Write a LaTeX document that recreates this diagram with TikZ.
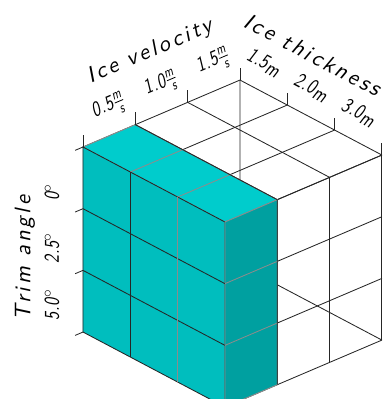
\documentclass[tikz,border=0pt]{standalone}
\usepackage{amsmath}
\usepackage{fontspec}
\newfontfamily\cadfont{lmsans10-oblique}[Extension=.otf, LetterSpace=13]
\newfontfamily\cadnum{lmsans10-oblique}[Extension=.otf, FakeStretch=0.78, LetterSpace=3]
\definecolor{cyantop}{RGB}{0,204,204}
\definecolor{cyanleft}{RGB}{0,190,190}
\definecolor{cyanright}{RGB}{0,160,160}
\newcommand{\mps}{$\tfrac{\text{m}}{\text{s}}$}

\begin{document}
\begin{tikzpicture}[
  x={(1.308cm,0.558cm)}, y={(1.183cm,-0.625cm)}, z={(0cm,-1.542cm)},
  wire/.style={draw=black!85, line width=0.6pt},
  soft/.style={draw=black!45, line width=0.6pt},
  tickmark/.style={draw=black!85, line width=0.6pt},
  lbl/.style={font=\cadnum\fontsize{15}{17}\selectfont, inner sep=0pt},
  ttl/.style={font=\cadfont\fontsize{16}{18}\selectfont, inner sep=0pt}
]
  \clip (-2.075cm,-6.3cm) rectangle (7.55cm,3.675cm);

  % Rejilla de la cara superior y de la cara frontal derecha
  \foreach \i in {0,...,3} {
    \draw[wire] (\i,0,0) -- (\i,3,0);
    \draw[wire] (0,\i,0) -- (3,\i,0);
    \draw[wire] (\i,3,0) -- (\i,3,3);
    \draw[wire] (0,3,\i) -- (3,3,\i);
  }
  % Aristas traseras
  \draw[wire] (3,0,0) -- (3,0,3) -- (3,3,3);

  % Capa coloreada (primera velocidad)
  \filldraw[fill=cyantop, soft] (0,0,0) -- (1,0,0) -- (1,3,0) -- (0,3,0) -- cycle;
  \filldraw[fill=cyanleft, wire] (0,0,0) -- (0,3,0) -- (0,3,3) -- (0,0,3) -- cycle;
  \filldraw[fill=cyanright, soft] (0,3,0) -- (1,3,0) -- (1,3,3) -- (0,3,3) -- cycle;
  \foreach \i in {1,2} {
    \draw[soft] (0,\i,0) -- (1,\i,0);
    \draw[wire] (0,0,\i) -- (0,3,\i);
    \draw[soft] (0,3,\i) -- (1,3,\i);
  }
  \draw[wire] (0,1,0) -- (0,1,3);
  \draw[soft] (0,2,0) -- (0,2,3);
  \draw[wire] (1,0,0) -- (1,3,0) -- (1,3,3);

  % Marcas de los ejes
  \foreach \i in {0,...,3} {
    \draw[tickmark] (\i,0,0) -- ++(0,0,-0.2);
    \draw[tickmark] (3,\i,0) -- ++(0,0,-0.2);
    \draw[tickmark] (0,0,\i) -- ++(-0.15,0,0);
  }

  % Etiquetas
  \foreach \i/\val in {1/0.5, 2/1.0, 3/1.5}
    \node[lbl, rotate=23.1] (vel\i) at ([yshift=0.725cm]\i-0.5,0,0) {\val\mps};
  \foreach \i/\val in {1/1.5, 2/2.0, 3/3.0}
    \node[lbl, rotate=-27.85] (thk\i) at ([yshift=0.75cm]3,\i-0.5,0) {\val\raisebox{-0.3ex}{m}};
  \foreach \i/\val/\pos in {1/0/0.73, 2/2.5/1.64, 3/5.0/2.56}
    \node[lbl, rotate=90] (trm\i) at ([xshift=-0.775cm]0,0,\pos) {\val$^\circ$};

  \node[ttl, rotate=23.1] (veltitle) at (1.675cm,2.375cm) {Ice velocity};
  \node[ttl, rotate=-27.85] (thktitle) at (5.75cm,2.3cm) {Ice thickness};
  \node[ttl, rotate=90] (trmtitle) at (-1.45cm,-2.775cm) {Trim angle};
\end{tikzpicture}
\end{document}
